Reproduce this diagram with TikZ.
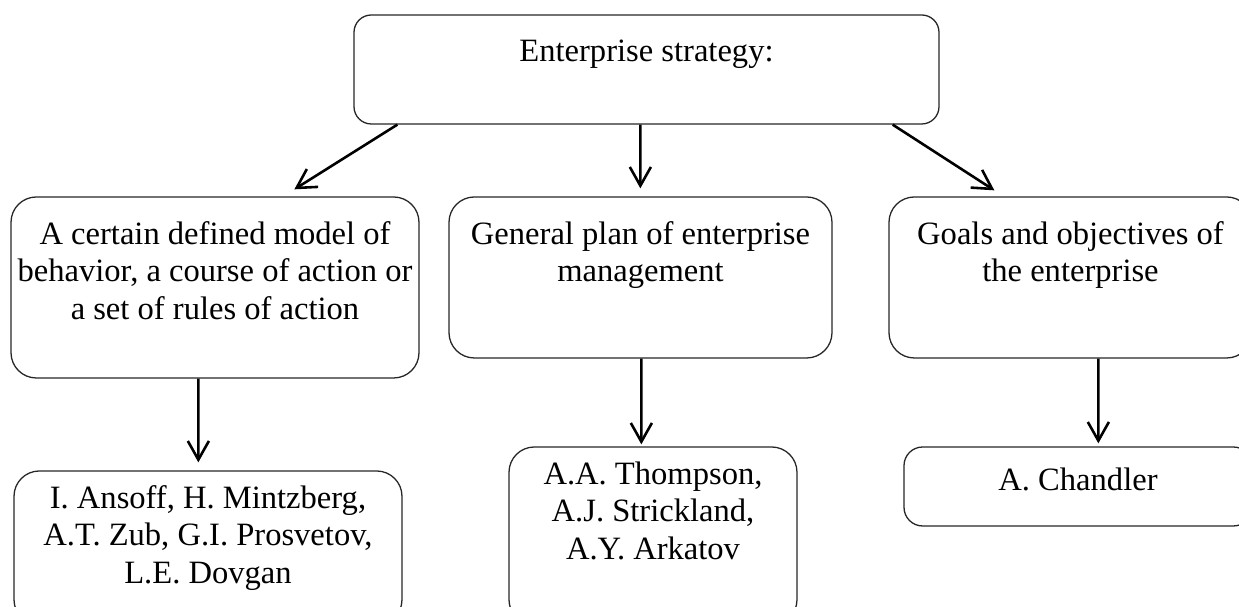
\documentclass[tikz,border=0pt]{standalone}
\usepackage{fontspec}
\setmainfont{Liberation Serif}
\usetikzlibrary{arrows.meta,calc}

\begin{document}
\begin{tikzpicture}[
		box/.style={draw=black!85, line width=0.55pt, rounded corners=0.38cm, inner sep=0pt},
		boxtext/.style={anchor=north, inner sep=0pt, align=center, font=\fontsize{13.9pt}{16pt}\selectfont},
		link/.style={line width=1.1pt, -{Straight Barb[length=8pt,width=9pt]}}
	]
		%%%%% START %%%%%
		
		\path[use as bounding box, clip] (0, 0) rectangle (18.585, 9.105);
		
		% top
		\node[box, rounded corners=0.26cm, minimum width=8.775cm, minimum height=1.635cm] (strategy) at (9.6975, 8.0625) {};
		\node[boxtext] (strategy-t) at ([yshift=-0.37cm]strategy.north) {Enterprise strategy:};
		
		% middle row
		\node[box, minimum width=6.12cm, minimum height=2.715cm] (behavior) at (3.225, 4.7925) {};
		\node[boxtext] (behavior-t) at ([yshift=-0.37cm]behavior.north) {A certain defined model of\\behavior, a course of action or\\a set of rules of action};
		
		\node[box, minimum width=5.745cm, minimum height=2.415cm] (plan) at (9.6075, 4.9425) {};
		\node[boxtext] (plan-t) at ([yshift=-0.37cm]plan.north) {General plan of enterprise\\management};
		
		\node[box, minimum width=5.445cm, minimum height=2.415cm] (goals) at (16.0575, 4.9425) {};
		\node[boxtext] (goals-t) at ([yshift=-0.37cm]goals.north) {Goals and objectives of\\the enterprise};
		
		% bottom row
		\node[box, minimum width=5.82cm, minimum height=2.31cm] (ansoff) at (3.12, 0.885) {};
		\node[boxtext] (ansoff-t) at ([yshift=-0.22cm]ansoff.north) {I. Ansoff, H. Mintzberg,\\A.T. Zub, G.I. Prosvetov,\\L.E. Dovgan};
		
		\node[box, minimum width=4.32cm, minimum height=2.67cm] (thompson) at (9.795, 1.065) {};
		\node[boxtext] (thompson-t) at ([yshift=-0.22cm]thompson.north) {A.A. Thompson,\\A.J. Strickland,\\A.Y. Arkatov};
		
		\node[box, rounded corners=0.28cm, minimum width=5.22cm, minimum height=1.185cm] (chandler) at (16.17, 1.8075) {};
		\node[boxtext] (chandler-t) at ([yshift=-0.315cm]chandler.north) {A. Chandler};
		
		% arrows
		\draw[link] ($(strategy.south west)+(0.66,0)$) -- ($(behavior.north west)+(4.26,0.105)$);
		\draw[link] ($(strategy.south west)+(4.305,0)$) -- ($(plan.north west)+(2.88,0.12)$);
		\draw[link] ($(strategy.south east)+(-0.705,0)$) -- ($(goals.north west)+(1.59,0.09)$);
		
		\draw[link] ($(behavior.south west)+(2.82,0)$) -- ($(ansoff.north west)+(2.775,0.12)$);
		\draw[link] ($(plan.south west)+(2.895,0)$) -- ($(thompson.north west)+(1.995,0.03)$);
		\draw[link] ($(goals.south west)+(3.15,0)$) -- ($(chandler.north west)+(2.925,0.045)$);
		
		%%%%% END %%%%%
	\end{tikzpicture}
\end{document}
